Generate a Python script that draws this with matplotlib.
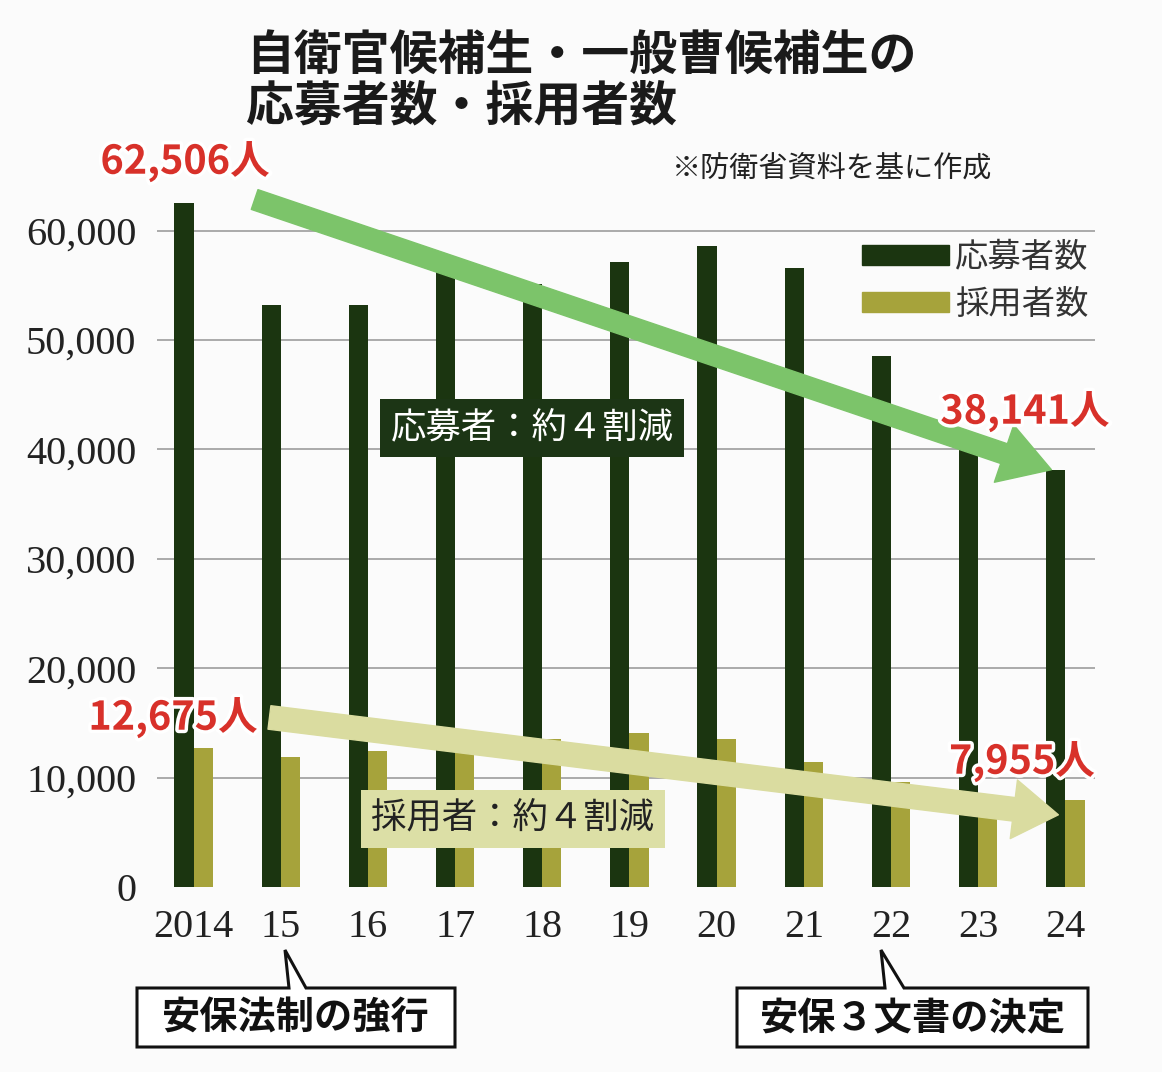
import matplotlib.pyplot as plt
import matplotlib.patheffects as pe
from matplotlib.patches import Patch, Polygon

plt.rcParams['font.family'] = ['Noto Sans CJK JP', 'DejaVu Sans']

years = ["2014", "15", "16", "17", "18", "19", "20", "21", "22", "23", "24"]
applicants = [62506, 53200, 53200, 56400, 55100, 57100, 58600, 56600, 48500, 40000, 38141]
hired = [12675, 11850, 12450, 12800, 13500, 14100, 13500, 11400, 9600, 8300, 7955]
yticks = [0, 10000, 20000, 30000, 40000, 50000, 60000]

DARK = "#1b3510"
OLIVE = "#a6a33b"
W, H = 1162, 1072


def fx(x):
    return x / W


def fy(y):
    return 1 - y / H


fig = plt.figure(figsize=(W / 100, H / 100), dpi=100)
fig.patch.set_facecolor("#fbfbfb")
ax = fig.add_axes([fx(157), fy(887), 938 / W, (887 - 176) / H])
ax.set_facecolor("none")

xs = list(range(len(years)))
bw = 0.22
ax.bar([x - bw / 2 for x in xs], applicants, width=bw, color=DARK, zorder=2)
ax.bar([x + bw / 2 for x in xs], hired, width=bw, color=OLIVE, zorder=2)

ax.set_xlim(-0.42, 10.34)
ax.set_ylim(0, 65000)
ax.set_yticks(yticks)
ax.set_yticklabels([f"{v:,}" for v in yticks], family="Liberation Serif", fontsize=29, color="#222222")
ax.set_xticks(xs)
ax.set_xticklabels(years, family="Liberation Serif", fontsize=29, color="#222222")
ax.tick_params(axis="y", length=0, pad=15)
ax.tick_params(axis="x", length=0, pad=16)
ax.grid(axis="y", color="#aaaaaa", linewidth=1.4, zorder=0)
ax.yaxis.get_gridlines()[0].set_visible(False)
for s in ax.spines.values():
    s.set_visible(False)

# trend arrows
ax.annotate("", xy=(9.84, 38150), xytext=(0.70, 62850),
            arrowprops=dict(arrowstyle="simple,head_width=2.9,head_length=2.4,tail_width=1.0",
                            mutation_scale=15, color="#7cc46a", shrinkA=0, shrinkB=0), zorder=4)
ax.annotate("", xy=(9.92, 6600), xytext=(0.87, 15500),
            arrowprops=dict(arrowstyle="simple,head_width=2.5,head_length=1.9,tail_width=1.0",
                            mutation_scale=17, color="#dadca0", shrinkA=0, shrinkB=0), zorder=4)

# title
fig.text(fx(246), fy(55), "自衛官候補生・一般曹候補生の", fontsize=34.5, fontweight="bold",
         color="#1a1a1a", ha="left", va="center")
fig.text(fx(246), fy(106), "応募者数・採用者数", fontsize=34.5, fontweight="bold",
         color="#1a1a1a", ha="left", va="center")
fig.text(fx(832), fy(170), "※防衛省資料を基に作成", fontsize=21, color="#222222",
         ha="center", va="center")

# legend
handles = [Patch(color=DARK, label="応募者数"), Patch(color=OLIVE, label="採用者数")]
fig.legend(handles=handles, loc="upper left", bbox_to_anchor=(fx(862), fy(240)),
           frameon=False, fontsize=24, handlelength=2.6, handleheight=0.55,
           handletextpad=0.2, labelspacing=0.35, borderpad=0, borderaxespad=0,
           labelcolor="#333333")

# red value labels
red = "#d8312a"
halo = [pe.withStroke(linewidth=5, foreground="white")]
for txt, x, y in [("62,506人", 185, 162), ("38,141人", 1025, 412),
                  ("12,675人", 173, 718), ("7,955人", 1022, 762)]:
    fig.text(fx(x), fy(y), txt, fontsize=28.5, fontweight="bold", color=red,
             ha="center", va="center", path_effects=halo, zorder=6)

# reduction boxes
fig.text(fx(532), fy(428), "応募者：約４割減", fontsize=25.5, color="white",
         ha="center", va="center", zorder=6,
         bbox=dict(boxstyle="square,pad=0.3", facecolor="#1c3515", edgecolor="none"))
fig.text(fx(513), fy(819), "採用者：約４割減", fontsize=25.5, color="#222222",
         ha="center", va="center", zorder=6,
         bbox=dict(boxstyle="square,pad=0.3", facecolor="#dcdfa6", edgecolor="none"))


# callouts under the x axis
def callout(x0, x1, y0, y1, nb0, nb1, tip, text):
    pts = [(x0, y0), (nb0, y0), tip, (nb1, y0), (x1, y0), (x1, y1), (x0, y1)]
    poly = Polygon([(fx(a), fy(b)) for a, b in pts], closed=True, transform=fig.transFigure,
                   facecolor="white", edgecolor="#111111", linewidth=2.2, zorder=5)
    fig.patches.append(poly)
    fig.text(fx((x0 + x1) / 2), fy((y0 + y1) / 2 + 1), text, fontsize=27.5, fontweight="bold",
             color="#111111", ha="center", va="center", zorder=6)


callout(137, 455, 988, 1047, 289, 306, (285, 950), "安保法制の強行")
callout(737, 1088, 988, 1047, 885, 904, (881, 950), "安保３文書の決定")

fig.savefig("out.png", dpi=100, facecolor=fig.get_facecolor())
